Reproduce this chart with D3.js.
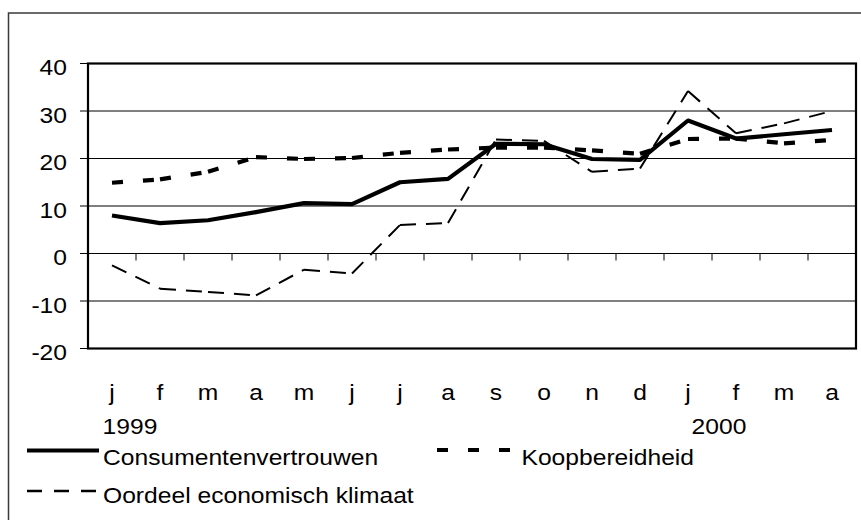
<!DOCTYPE html>
<html>
<head>
<meta charset="utf-8">
<script src="https://cdn.jsdelivr.net/npm/d3@7/dist/d3.min.js"></script>
<style>
  html, body { margin: 0; padding: 0; background: #fff; }
  svg { display: block; }
  text { font-family: "Liberation Sans", Arial, sans-serif; fill: #000; }
</style>
</head>
<body>
<svg id="chart" width="861" height="520"></svg>
<script>
// ---- data ----
const months = ["j","f","m","a","m","j","j","a","s","o","n","d","j","f","m","a"];
const yearLabels = ["1999", "2000"];
const yearIndex = [0, 12];
const yTicks = [-20, -10, 0, 10, 20, 30, 40];
const seriesNames = ["Consumentenvertrouwen", "Koopbereidheid", "Oordeel economisch klimaat"];
const consumentenvertrouwen = [8.0, 6.4, 7.0, 8.7, 10.6, 10.4, 15.0, 15.7, 23.1, 23.0, 19.9, 19.7, 28.0, 24.2, 25.1, 26.0];
const koopbereidheid = [14.9, 15.6, 17.2, 20.3, 19.9, 20.1, 21.2, 21.9, 22.3, 22.3, 21.7, 21.0, 24.1, 24.2, 23.2, 23.9];
const oordeel = [-2.5, -7.4, -8.1, -8.8, -3.4, -4.2, 6.0, 6.4, 24.0, 23.7, 17.2, 17.9, 34.2, 25.3, 27.4, 30.0];

// ---- layout ----
const svg = d3.select("#chart");
const SX = 1.12;           // horizontal stretch of the glyphs
const FS = 22;
const plot = { left: 88, right: 856, top: 63.5, bottom: 348.5 };

const x = d3.scaleBand().domain(d3.range(months.length)).range([plot.left, plot.right]).padding(0);
const cx = i => x(i) + x.bandwidth() / 2;
const y = d3.scaleLinear().domain([-20, 40]).range([plot.bottom, plot.top]);

function stretchedText(g, str, tx, ty, anchor) {
  return g.append("text")
    .attr("transform", `translate(${tx},${ty}) scale(${SX},1)`)
    .attr("text-anchor", anchor)
    .attr("font-size", FS)
    .text(str);
}

// outer chart border (only top/left visible)
svg.append("rect")
  .attr("x", 8.5).attr("y", 13).attr("width", 900).attr("height", 600)
  .attr("fill", "none").attr("stroke", "#3a3a3a").attr("stroke-width", 1.5);

// gridlines
svg.append("g").selectAll("line").data(yTicks).join("line")
  .attr("x1", plot.left).attr("x2", plot.right)
  .attr("y1", d => y(d)).attr("y2", d => y(d))
  .attr("stroke", "#000").attr("stroke-width", 1);

// y axis ticks & labels
const yAxisG = svg.append("g");
yAxisG.selectAll("line").data(yTicks).join("line")
  .attr("x1", plot.left - 8).attr("x2", plot.left)
  .attr("y1", d => y(d)).attr("y2", d => y(d))
  .attr("stroke", "#000").attr("stroke-width", 1);
yTicks.forEach(t => stretchedText(yAxisG, String(t), 67, y(t) + 11.5, "end"));

// x axis at zero with ticks at category boundaries
const xAxisG = svg.append("g");
xAxisG.append("line")
  .attr("x1", plot.left).attr("x2", plot.right)
  .attr("y1", y(0)).attr("y2", y(0))
  .attr("stroke", "#000").attr("stroke-width", 1);
xAxisG.selectAll("line.tk").data(d3.range(1, months.length)).join("line")
  .attr("class", "tk")
  .attr("x1", d => x(d)).attr("x2", d => x(d))
  .attr("y1", y(0)).attr("y2", y(0) + 7)
  .attr("stroke", "#000").attr("stroke-width", 1);

// category labels
months.forEach((m, i) => stretchedText(xAxisG, m, cx(i), 399.5, "middle"));
// year labels
const yearNudge = [18, 31];
yearLabels.forEach((lab, k) => stretchedText(xAxisG, lab, cx(yearIndex[k]) + yearNudge[k], 433.5, "middle"));

// ---- series ----
const line = d3.line().x((d, i) => cx(i)).y(d => y(d));

// segment-wise dashed drawing (dash pattern restarts at each vertex)
function dashedSegments(values, width, dash) {
  const g = svg.append("g");
  for (let i = 0; i < values.length - 1; i++) {
    g.append("line")
      .attr("x1", cx(i)).attr("y1", y(values[i]))
      .attr("x2", cx(i + 1)).attr("y2", y(values[i + 1]))
      .attr("stroke", "#000").attr("stroke-width", width)
      .attr("stroke-dasharray", dash);
  }
}

svg.append("path").datum(consumentenvertrouwen)
  .attr("d", line).attr("fill", "none")
  .attr("stroke", "#000").attr("stroke-width", 4.2)
  .attr("stroke-linejoin", "round");

dashedSegments(koopbereidheid, 4.2, "11,20");
dashedSegments(oordeel, 2, "16,10");

// plot frame
svg.append("rect")
  .attr("x", plot.left).attr("y", plot.top)
  .attr("width", plot.right - plot.left).attr("height", plot.bottom - plot.top)
  .attr("fill", "none").attr("stroke", "#000").attr("stroke-width", 2.2);

// ---- legend ----
const lg = svg.append("g");
lg.append("line").attr("x1", 27).attr("x2", 99).attr("y1", 450.5).attr("y2", 450.5)
  .attr("stroke", "#000").attr("stroke-width", 4.2);
stretchedText(lg, seriesNames[0], 103, 465, "start");

lg.append("line").attr("x1", 437).attr("x2", 510).attr("y1", 450).attr("y2", 450)
  .attr("stroke", "#000").attr("stroke-width", 4.2).attr("stroke-dasharray", "11,20");
stretchedText(lg, seriesNames[1], 521.5, 465, "start");

lg.append("line").attr("x1", 27).attr("x2", 99).attr("y1", 491).attr("y2", 491)
  .attr("stroke", "#000").attr("stroke-width", 2.6).attr("stroke-dasharray", "15,12");
stretchedText(lg, seriesNames[2], 103, 503, "start");
</script>
</body>
</html>
